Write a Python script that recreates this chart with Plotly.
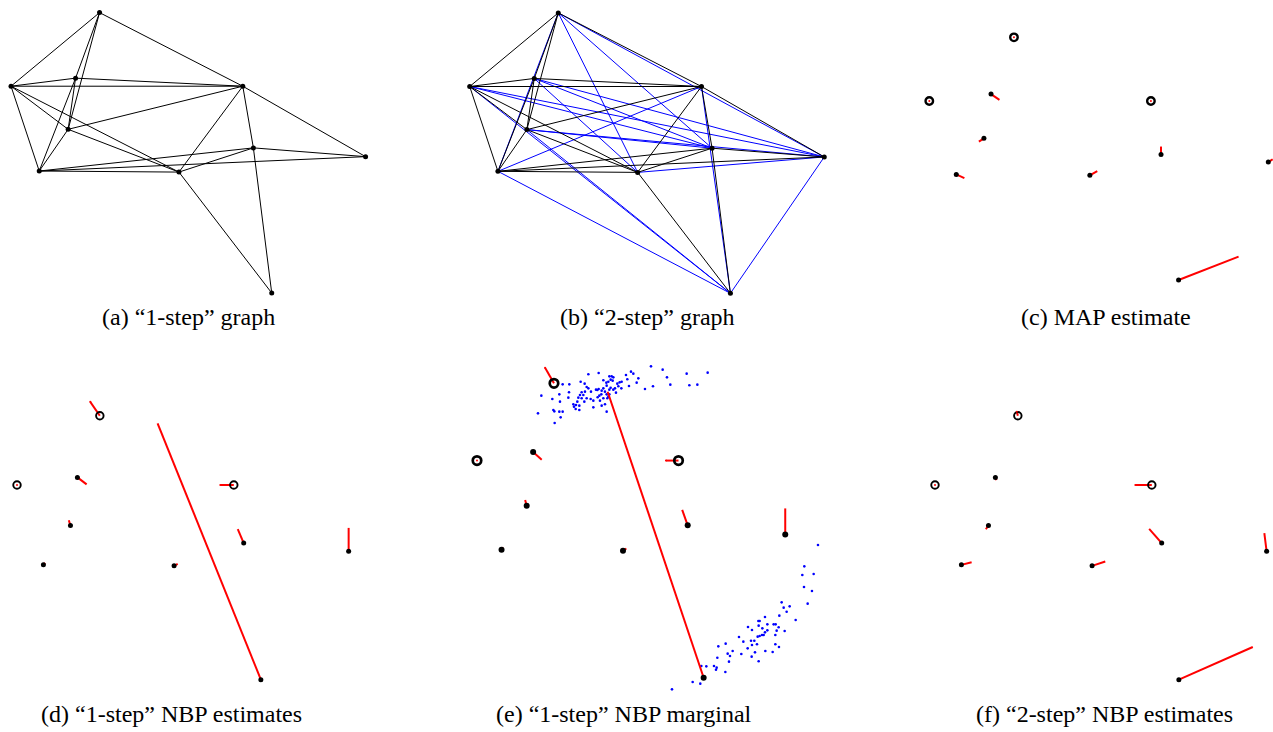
import plotly.graph_objects as go

# True sensor locations (normalised units); nodes 0, 1 and 3 are anchors
node_x = [0.251, 0.000, 0.183, 0.657, 0.162, 0.080, 0.476, 0.687, 1.005, 0.739]
node_y = [0.800, 0.590, 0.613, 0.590, 0.467, 0.348, 0.345, 0.414, 0.389, 0.000]
anchor_ids = [0, 1, 3]

# Edges of the "1-step" graph (sensors within range of each other)
one_step_edges = [(0, 1), (0, 3), (0, 2), (0, 4), (1, 2), (1, 3), (1, 4), (1, 5),
                  (1, 6), (2, 3), (2, 4), (2, 5), (3, 4), (3, 6), (3, 7), (3, 8),
                  (4, 5), (4, 6), (5, 6), (5, 7), (5, 8), (6, 7), (6, 9), (7, 8),
                  (7, 9)]
# Additional edges of the "2-step" graph (neighbours of neighbours)
two_step_edges = [(0, 5), (0, 6), (0, 7), (0, 8), (1, 7), (1, 8), (1, 9), (2, 6),
                  (2, 7), (2, 8), (3, 5), (3, 9), (4, 7), (4, 8), (4, 9), (5, 9),
                  (6, 8), (8, 9)]

# Location estimates
map_x = [0.251, 0.000, 0.208, 0.657, 0.147, 0.104, 0.498, 0.687, 1.018, 0.917]
map_y = [0.800, 0.590, 0.594, 0.590, 0.456, 0.336, 0.359, 0.440, 0.398, 0.077]
nbp1_x = [0.222, 0.000, 0.211, 0.616, 0.157, 0.085, 0.487, 0.669, 1.005, 0.426]
nbp1_y = [0.842, 0.590, 0.592, 0.590, 0.483, 0.354, 0.351, 0.456, 0.460, 0.777]
nbp2_x = [0.248, 0.000, 0.186, 0.607, 0.154, 0.111, 0.516, 0.649, 0.998, 0.963]
nbp2_y = [0.812, 0.590, 0.605, 0.590, 0.456, 0.356, 0.358, 0.457, 0.444, 0.099]

# Particle samples of the "1-step" NBP marginal of node 9
sample_x = [0.5673, 0.6054, 0.6836, 0.7521, 0.6195, 0.6303, 0.6923, 0.7184, 0.5738, 0.5477,
            0.5260, 0.5206, 0.5021, 0.5097, 0.4858, 0.4901, 0.4956, 0.4717, 0.4652, 0.4575,
            0.4608, 0.4706, 0.4499, 0.4445, 0.4532, 0.4315, 0.4391, 0.4445, 0.4358, 0.4423,
            0.4282, 0.4217, 0.4228, 0.4358, 0.4315, 0.4119, 0.3967, 0.3630, 0.3380, 0.3510,
            0.3576, 0.3630, 0.3880, 0.3967, 0.4065, 0.4119, 0.4173, 0.4054, 0.4228, 0.4282,
            0.4249, 0.4119, 0.3989, 0.3934, 0.4010, 0.4173, 0.4065, 0.4228, 0.3706, 0.3793,
            0.3576, 0.3499, 0.3413, 0.3304, 0.3271, 0.3228, 0.3336, 0.3141, 0.3163, 0.3217,
            0.3336, 0.3521, 0.3413, 0.3467, 0.3358, 0.3717, 0.3793, 0.2978, 0.3000, 0.2684,
            0.2793, 0.3010, 0.2456, 0.2706, 0.2098, 0.2489, 0.2521, 0.2684, 0.2793, 0.2728,
            0.2532, 0.1989, 0.3923, 0.4315,
            1.1118, 1.0672, 1.0977, 1.0607, 1.0662, 1.0922, 1.0781, 0.9933, 0.9999, 1.0194,
            1.0096, 1.0390, 0.9857, 0.9738, 0.9673, 0.9836, 0.9770, 1.0031, 0.9727, 0.9466,
            0.9173, 0.9216, 0.9390, 0.8836, 0.8966, 0.9183, 0.9303, 0.9466, 0.9390, 0.9346,
            0.9216, 0.9151, 0.9292, 0.9042, 0.8934, 0.8966, 0.9129, 0.8684, 0.8542, 0.8825,
            0.9064, 0.8955, 0.8618, 0.9401, 0.9640, 0.9846, 0.9727, 0.8336, 0.8173, 0.8249,
            0.8216, 0.8108, 0.7868, 0.7836, 0.7727, 0.7814, 0.7792, 0.7477, 0.7314, 0.8097,
            0.9183, 0.7032, 0.7281, 0.6358]
sample_y = [0.8461, 0.8371, 0.8262, 0.8289, 0.8162, 0.7963, 0.7945, 0.7963, 0.7918, 0.7845,
            0.8135, 0.8017, 0.8316, 0.8262, 0.8226, 0.8108, 0.7927, 0.8044, 0.8026, 0.7990,
            0.7918, 0.7863, 0.7863, 0.7827, 0.7746, 0.8189, 0.8189, 0.8162, 0.8099, 0.8072,
            0.8044, 0.8017, 0.7936, 0.7881, 0.7827, 0.8081, 0.8280, 0.8244, 0.8044, 0.7990,
            0.7900, 0.7863, 0.7827, 0.7845, 0.7800, 0.7863, 0.7773, 0.7700, 0.7700, 0.7637,
            0.7592, 0.7592, 0.7664, 0.7619, 0.7528, 0.7429, 0.7392, 0.7229, 0.7573, 0.7528,
            0.7592, 0.7501, 0.7592, 0.7610, 0.7501, 0.7410, 0.7392, 0.7429, 0.7365, 0.7302,
            0.7275, 0.7773, 0.7755, 0.7682, 0.7682, 0.7773, 0.7347, 0.7610, 0.7755, 0.7700,
            0.7972, 0.7972, 0.7573, 0.7501, 0.7664, 0.7275, 0.7238, 0.7229, 0.7229, 0.7075,
            0.6921, 0.7184, 0.7818, 0.7700,
            0.3606, 0.3026, 0.2818, 0.2791, 0.2465, 0.2356, 0.2012, 0.2048, 0.1903, 0.1939,
            0.1794, 0.1568, 0.1686, 0.1450, 0.1450, 0.1369, 0.1278, 0.1269, 0.1160, 0.1450,
            0.1541, 0.1541, 0.1649, 0.1378, 0.1296, 0.1414, 0.1341, 0.1287, 0.1233, 0.1160,
            0.1133, 0.1115, 0.1160, 0.1006, 0.1006, 0.0889, 0.0907, 0.0979, 0.1106, 0.0798,
            0.0689, 0.0572, 0.0644, 0.0726, 0.0698, 0.0834, 0.0907, 0.0726, 0.0653, 0.0590,
            0.0436, 0.0925, 0.0852, 0.0544, 0.0318, 0.0273, 0.0218, 0.0309, 0.0318, 0.0155,
            0.0445, -0.0117, -0.0162, -0.0316]

captions = ["(a) \u201c1-step\u201d graph", "(b) \u201c2-step\u201d graph", "(c) MAP estimate",
            "(d) \u201c1-step\u201d NBP estimates", "(e) \u201c1-step\u201d NBP marginal",
            "(f) \u201c2-step\u201d NBP estimates"]

BLACK = "#000000"
BLUE = "#0000ff"
RED = "#ff0000"

# Subplot boxes (paper fractions) and the data window shown in each
panels = [
    dict(dom_x=[0.00393, 0.29222], dom_y=[0.59016, 0.99317], rx=[-0.0170, 1.0232], ry=[-0.0200, 0.8217]),
    dict(dom_x=[0.36449, 0.65279], dom_y=[0.59016, 0.99317], rx=[-0.01616, 1.02409], ry=[-0.01912, 0.82254]),
    dict(dom_x=[0.72270, 1.00000], dom_y=[0.60383, 0.96585], rx=[-0.02757, 1.01898], ry=[-0.03297, 0.84075]),
    dict(dom_x=[0.00393, 0.29222], dom_y=[0.05738, 0.46038], rx=[-0.03636, 1.07576], ry=[-0.03121, 0.86273]),
    dict(dom_x=[0.36449, 0.65279], dom_y=[0.05055, 0.51503], rx=[-0.04239, 1.15422], ry=[-0.04701, 0.87690]),
    dict(dom_x=[0.72270, 1.00000], dom_y=[0.05738, 0.46038], rx=[-0.04545, 1.02424], ry=[-0.03121, 0.86273]),
]
caption_pos = [(188, 317), (647, 317), (1106, 317), (171, 714), (624, 714), (1104, 714)]

W, H = 1273, 732


def edge_path(edges):
    xs, ys = [], []
    for i, j in edges:
        xs += [node_x[i], node_x[j], None]
        ys += [node_y[i], node_y[j], None]
    return xs, ys


def error_path(est_x, est_y):
    xs, ys = [], []
    for k in range(len(node_x)):
        xs += [node_x[k], est_x[k], None]
        ys += [node_y[k], est_y[k], None]
    return xs, ys


fig = go.Figure()


def axes_ref(n):
    return ("x" if n == 1 else f"x{n}"), ("y" if n == 1 else f"y{n}")


def add_graph(n, blue_edges):
    xa, ya = axes_ref(n)
    if blue_edges:
        bx, by = edge_path(two_step_edges)
        fig.add_trace(go.Scatter(x=bx, y=by, mode="lines", xaxis=xa, yaxis=ya,
                                 line=dict(color=BLUE, width=1), hoverinfo="skip"))
    ex, ey = edge_path(one_step_edges)
    fig.add_trace(go.Scatter(x=ex, y=ey, mode="lines", xaxis=xa, yaxis=ya,
                             line=dict(color=BLACK, width=1), hoverinfo="skip"))
    fig.add_trace(go.Scatter(x=node_x, y=node_y, mode="markers", xaxis=xa, yaxis=ya,
                             marker=dict(color=BLACK, size=5, symbol="circle"),
                             cliponaxis=False))


def add_estimates(n, est_x, est_y, dot_size=5, ring_size=7, ring_width=1.8, samples=False):
    xa, ya = axes_ref(n)
    if samples:
        fig.add_trace(go.Scatter(x=sample_x, y=sample_y, mode="markers", xaxis=xa, yaxis=ya,
                                 marker=dict(color=BLUE, size=2.6, symbol="circle"),
                                 cliponaxis=False))
    rx, ry = error_path(est_x, est_y)
    fig.add_trace(go.Scatter(x=rx, y=ry, mode="lines", xaxis=xa, yaxis=ya,
                             line=dict(color=RED, width=2), hoverinfo="skip"))
    free = [k for k in range(len(node_x)) if k not in anchor_ids]
    fig.add_trace(go.Scatter(x=[node_x[k] for k in free], y=[node_y[k] for k in free],
                             mode="markers", xaxis=xa, yaxis=ya, cliponaxis=False,
                             marker=dict(color=BLACK, size=dot_size, symbol="circle")))
    fig.add_trace(go.Scatter(x=[node_x[k] for k in anchor_ids], y=[node_y[k] for k in anchor_ids],
                             mode="markers", xaxis=xa, yaxis=ya, cliponaxis=False,
                             marker=dict(color=BLACK, size=ring_size, symbol="circle-open",
                                         line=dict(width=ring_width))))
    fig.add_trace(go.Scatter(x=[est_x[k] for k in anchor_ids], y=[est_y[k] for k in anchor_ids],
                             mode="markers", xaxis=xa, yaxis=ya, cliponaxis=False,
                             marker=dict(color=RED, size=2, symbol="circle")))


add_graph(1, blue_edges=False)
add_graph(2, blue_edges=True)
add_estimates(3, map_x, map_y, ring_size=7.5, ring_width=2.4)
add_estimates(4, nbp1_x, nbp1_y, ring_size=7.5, ring_width=1.9)
add_estimates(5, nbp1_x, nbp1_y, dot_size=6, ring_size=8.5, ring_width=2.7, samples=True)
add_estimates(6, nbp2_x, nbp2_y, ring_size=7.5, ring_width=1.9)

layout = dict(width=W, height=H, margin=dict(l=0, r=0, t=0, b=0),
              paper_bgcolor="white", plot_bgcolor="white", showlegend=False)
for n, p in enumerate(panels, start=1):
    xk = "xaxis" if n == 1 else f"xaxis{n}"
    yk = "yaxis" if n == 1 else f"yaxis{n}"
    xa, ya = axes_ref(n)
    layout[xk] = dict(domain=p["dom_x"], range=p["rx"], visible=False, anchor=ya,
                      showgrid=False, zeroline=False, fixedrange=True)
    layout[yk] = dict(domain=p["dom_y"], range=p["ry"], visible=False, anchor=xa,
                      showgrid=False, zeroline=False, fixedrange=True)

fig.update_layout(**layout)

for text, (cx, cy) in zip(captions, caption_pos):
    fig.add_annotation(text=text, x=cx / W, y=1 - cy / H, xref="paper", yref="paper",
                       xanchor="center", yanchor="middle", showarrow=False,
                       font=dict(family="'Liberation Serif', 'Times New Roman', serif",
                                 size=24, color=BLACK))

fig.write_html("out.html")
